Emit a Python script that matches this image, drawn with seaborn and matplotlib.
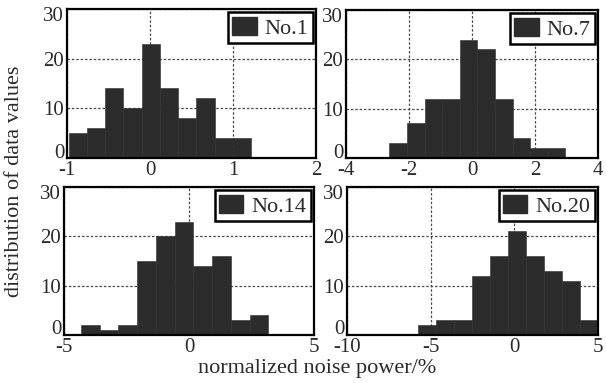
import numpy as np
import pandas as pd
import matplotlib
matplotlib.use("Agg")
import matplotlib.pyplot as plt
import matplotlib.transforms as mtransforms
import seaborn as sns
from matplotlib.patches import Patch

# histogram data (bin edges + counts, 100 values each)
names = ["No.1", "No.7", "No.14", "No.20"]

edges_no1 = [-0.98, -0.76, -0.54, -0.32, -0.10, 0.12, 0.34, 0.56, 0.78, 1.00, 1.22]
counts_no1 = [5, 6, 14, 10, 23, 14, 8, 12, 4, 4]

edges_no7 = [-2.62, -2.06, -1.50, -0.95, -0.39, 0.17, 0.73, 1.29, 1.84, 2.40, 2.96]
counts_no7 = [3, 7, 12, 12, 24, 22, 12, 4, 2, 2]

edges_no14 = [-4.32, -3.57, -2.82, -2.07, -1.32, -0.57, 0.18, 0.93, 1.68, 2.43, 3.18]
counts_no14 = [2, 1, 2, 15, 20, 23, 14, 16, 3, 4]

edges_no20 = [-5.78, -4.70, -3.62, -2.55, -1.47, -0.39, 0.69, 1.77, 2.85, 3.93, 5.01]
counts_no20 = [2, 3, 3, 12, 16, 21, 16, 13, 11, 3]

xlims = [(-1, 2), (-4, 4), (-5, 5), (-10, 5)]
xticks = [[-1, 0, 1, 2], [-4, -2, 0, 2, 4], [-5, 0, 5], [-10, -5, 0, 5]]
yticks = [0, 10, 20, 30]

all_edges = [edges_no1, edges_no7, edges_no14, edges_no20]
all_counts = [counts_no1, counts_no7, counts_no14, counts_no20]

sns.set_theme(style="white")
plt.rcParams["font.family"] = ["Liberation Serif", "DejaVu Serif"]
plt.rcParams["axes.unicode_minus"] = False

txt = "#2a2a2a"
bar_col = "#2c2c2c"

fig = plt.figure(figsize=(6.06, 3.83), dpi=100)
W, H = 606, 383
# axes boxes in pixels: left, top, right, bottom
boxes = [(67, 9, 316, 158), (346, 10, 598, 158),
         (64, 187, 314, 335), (347, 187, 598, 335)]

for i, (l, t, r, b) in enumerate(boxes):
    ax = fig.add_axes([l / W, 1 - b / H, (r - l) / W, (b - t) / H])
    e = np.array(all_edges[i])
    df = pd.DataFrame({"x": (e[:-1] + e[1:]) / 2, "n": all_counts[i]})
    sns.histplot(data=df, x="x", weights="n", bins=all_edges[i], ax=ax,
                 color=bar_col, alpha=1, edgecolor=bar_col, linewidth=0.4)
    ax.set_xlim(*xlims[i])
    ax.set_ylim(0, 30)
    ax.set_xticks(xticks[i])
    ax.set_yticks(yticks)
    ax.set_xlabel("")
    ax.set_ylabel("")
    ax.set_axisbelow(True)
    ax.grid(True, color="#4a4a4a", linestyle=(0, (2, 1.5)), linewidth=0.9)
    for s in ax.spines.values():
        s.set_color("black")
        s.set_linewidth(1.6)
    ax.tick_params(direction="in", length=3, width=1, colors="black",
                   labelsize=15, labelcolor=txt, pad=2)
    # end labels of the y axis sit pulled inside, as in the scan
    yt = ax.yaxis.get_major_ticks()
    up = mtransforms.ScaledTranslation(0, 7.5 / 100, fig.dpi_scale_trans)
    down = mtransforms.ScaledTranslation(0, -5 / 100, fig.dpi_scale_trans)
    yt[0].label1.set_transform(yt[0].label1.get_transform() + up)
    yt[-1].label1.set_transform(yt[-1].label1.get_transform() + down)

    h = Patch(facecolor=bar_col, edgecolor=bar_col)
    leg = ax.legend(handles=[h], labels=[names[i]], loc="upper right",
                    fontsize=16, frameon=True, fancybox=False, framealpha=1,
                    edgecolor="black", borderaxespad=0.15, borderpad=0.2,
                    handlelength=1.1, handleheight=0.9, handletextpad=0.35)
    leg.get_frame().set_linewidth(1.8)
    for t_ in leg.get_texts():
        t_.set_color(txt)

fig.text(15 / W, 1 - 181 / H, "distribution of data values", rotation=90,
         ha="center", va="center", fontsize=16, color=txt)
fig.text(317 / W, 1 - 369 / H, "normalized noise power/%",
         ha="center", va="center", fontsize=16, color=txt)

fig.savefig("out.png", dpi=100)
